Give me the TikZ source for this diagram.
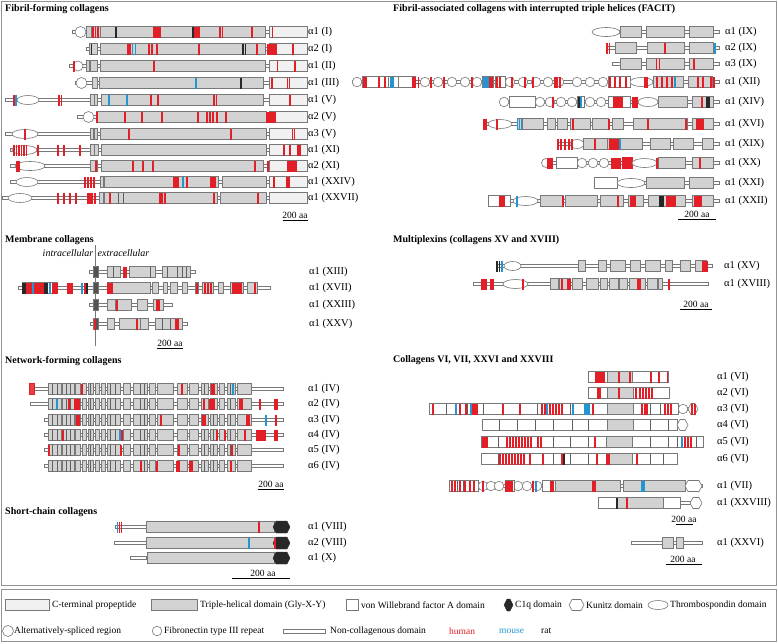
\documentclass[tikz,border=0pt]{standalone}
\usepackage{fontspec}
\setmainfont{Liberation Serif}
\definecolor{hred}{RGB}{226,30,38}
\definecolor{mblue}{RGB}{35,150,210}
\definecolor{rdark}{RGB}{40,40,40}
\definecolor{edge}{RGB}{120,120,120}
\definecolor{thfill}{RGB}{210,210,210}
\definecolor{cpfill}{RGB}{241,241,241}
\tikzset{
  ncs/.style={draw=edge,fill=white,line width=0.6pt},
  ths/.style={draw=edge,fill=thfill,line width=0.6pt},
  cps/.style={draw=edge,fill=cpfill,line width=0.6pt},
  vws/.style={draw=edge,fill=white,line width=0.6pt},
  tms/.style={draw=edge,fill=rdark!80,line width=0.6pt},
  rbs/.style={draw=hred,line width=1.15pt},
  bbs/.style={draw=mblue,line width=1.15pt},
  kbs/.style={draw=rdark,line width=1.15pt},
  dvs/.style={draw=edge!80!black,line width=0.6pt},
  labs/.style={font=\fontsize{10.5}{12}\selectfont,inner sep=0pt,anchor=west},
  sbs/.style={font=\fontsize{9.5}{11}\selectfont,inner sep=0pt,anchor=center},
  hds/.style={font=\bfseries\fontsize{10}{12}\selectfont,inner sep=0pt,anchor=west},
  lgs/.style={font=\fontsize{9.5}{11}\selectfont,inner sep=0pt,anchor=west},
  its/.style={font=\itshape\fontsize{10}{12}\selectfont,inner sep=0pt},
  frame/.style={draw=edge!80,line width=0.8pt}
}
\newcommand\ncx[3]{\draw[ncs] (#1,#3-1.6) rectangle (#2,#3+1.6);}
\newcommand\thx[3]{\draw[ths] (#1,#3-5.5) rectangle (#2,#3+5.5);}
\newcommand\cpx[3]{\draw[cps] (#1,#3-5.5) rectangle (#2,#3+5.5);}
\newcommand\vwx[3]{\draw[vws] (#1,#3-5.5) rectangle (#2,#3+5.5);}
\newcommand\tsx[3]{\draw[vws] ({(#1+#2)/2},#3) ellipse [x radius={(#2-#1)/2}, y radius=4.5];}
\newcommand\fnx[2]{\draw[vws] (#1,#2) circle [radius=4.8pt];}
\newcommand\asx[3]{\draw[vws] (#1,#2) circle [radius=#3pt];}
\newcommand\kux[3]{\draw[vws] (#1,#3) -- (#1+3,#3-5.5) -- (#2-3,#3-5.5) -- (#2,#3) -- (#2-3,#3+5.5) -- (#1+3,#3+5.5) -- cycle;}
\newcommand\cqx[3]{\draw[draw=rdark,fill=rdark] (#1,#3) -- (#1+3,#3-6) -- (#2-3,#3-6) -- (#2,#3) -- (#2-3,#3+6) -- (#1+3,#3+6) -- cycle;}
\newcommand\tmx[2]{\draw[tms] (93,#2-5.5) rectangle (98,#2+5.5);}
\newcommand\rb[2]{\foreach \xq in {#1} {\draw[rbs] (\xq,#2-5.5) -- (\xq,#2+5.5);}}
\newcommand\bb[2]{\foreach \xq in {#1} {\draw[bbs] (\xq,#2-5.5) -- (\xq,#2+5.5);}}
\newcommand\kb[2]{\foreach \xq in {#1} {\draw[kbs] (\xq,#2-5.5) -- (\xq,#2+5.5);}}
\newcommand\dv[2]{\foreach \xq in {#1} {\draw[dvs] (\xq,#2-5.5) -- (\xq,#2+5.5);}}
\newcommand\lab[4]{\node[labs] (#1) at (#2,#3) {#4};}
\newcommand\scalebar[5]{\node[sbs] (#1) at (#2,#3) {200 aa}; \draw[line width=0.8pt] (#4,#3+5.5) -- (#5,#3+5.5);}
\newcommand\netboxes[1]{\foreach \ba/\bz in {48/61,62/74,75/80,82/86,88/93,95/99,101/105,107/120,123/130,133/147,149/155,157/173,177/187,189/198,201/208,210/217,219/224,227/235,237/251} {\thx{\ba}{\bz}{#1}}
  \dv{52,57,66,70,90,110,115,140,144,204,213,230}{#1}}
\begin{document}
\begin{tikzpicture}[x=1pt,y=-1pt]
\useasboundingbox (0,0) rectangle (778,643);
\fill[white] (0,0) rectangle (778,643);
\draw[frame] (1.5,1.5) rectangle (776.5,585);
\draw[frame] (1.5,589.5) rectangle (776.5,641.5);

% ---------------- headings
\node[hds] (h1) at (5,9) {Fibril-forming collagens};
\node[hds] (h2) at (393,9) {Fibril-associated collagens with interrupted triple helices (FACIT)};
\node[hds] (h3) at (5,240) {Membrane collagens};
\node[hds] (h4) at (393,240) {Multiplexins (collagens XV and XVIII)};
\node[hds] (h5) at (5,361) {Network-forming collagens};
\node[hds] (h6) at (393,360) {Collagens VI, VII, XXVI and XXVIII};
\node[hds] (h7) at (5,512) {Short-chain collagens};

% ================= Fibril-forming
% a1(I)
\ncx{72}{270}{32}\asx{80.5}{32}{5.5}
\thx{86}{91}{32}\thx{91}{100}{32}\thx{100}{265}{32}\cpx{269}{307}{32}
\rb{93,95.5,98,154,156,158,160,195,197,199,220,222.5,252,272.5}{32}\kb{116,193}{32}
% a2(I)
\ncx{86}{269}{49}\thx{89}{97}{49}\thx{100}{265}{49}\cpx{269}{307}{49}
\rb{128,130,149,152,157,199,257,268,270,272,274,276,293}{49}\bb{132.5,135.5}{49}\kb{91.5,243,245.5}{49}
% a1(II)
\ncx{69}{269}{66}\asx{78}{66}{5}
\thx{86}{89}{66}\thx{90}{97}{66}\thx{100}{265}{66}\cpx{269}{307}{66}
\rb{74,154,277.5,295}{66}
% a1(III)
\ncx{75}{269}{83}\asx{81.5}{83}{5.5}
\thx{92}{97}{83}\thx{99}{263}{83}\cpx{269}{307}{83}
\bb{196}{83}\kb{241}{83}\rb{272,287.5,289.5}{83}
% a1(V)
\ncx{5}{269}{100}\tsx{17}{39}{100}
\thx{90}{94}{100}\thx{94}{97}{100}\thx{101}{263}{100}\cpx{269}{307}{100}
\rb{14,59,61.5,151,158,214,216.5,290}{100}\bb{16,109,127}{100}
% a2(V)
\ncx{77}{269}{117}\asx{88.5}{117}{5.5}
\thx{96}{266}{117}\cpx{269}{307}{117}
\rb{97,125,142,162,198,207,210,213,217,226,267,269,271,273,275}{117}
% a3(V)
\ncx{5}{269}{134}\tsx{12}{38}{134}
\thx{90}{93.5}{134}\thx{94}{97}{134}\thx{100}{266}{134}\cpx{269}{307}{134}
\rb{25,129,231,292.5,294.5}{134}
% a1(XI)
\ncx{10}{269}{150}\tsx{12}{37}{150}
\thx{90}{94}{150}\thx{94}{98}{150}\thx{101}{266}{150}\cpx{269}{307}{150}
\rb{14,16.5,19,21.5,24,26.5,38,58,64,80,284,290,298,300}{150}
% a2(XI)
\ncx{10}{269}{166}\tsx{15}{45}{166}
\thx{90}{97}{166}\thx{101}{263}{166}\cpx{269}{307}{166}
\rb{17,19,96,133,143,153,255,268,288,290,292,294,296}{166}
% a1(XXIV)
\ncx{10}{269}{182}\tsx{16}{38}{182}
\thx{100}{103}{182}\thx{104}{218}{182}\thx{222}{266}{182}\cpx{269}{307}{182}
\rb{85,88,91,94,174,176,178,187,211,213,215,274,287,289}{182}\bb{183}{182}
% a1(XXVII)
\ncx{2}{269}{198}\tsx{8}{32}{198}
\thx{99}{103}{198}\thx{104}{217}{198}\thx{220}{266}{198}\cpx{269}{307}{198}
\dv{118,123}{198}
\rb{58,64,70,76,88,90,92,95,110,160,162,165,214,258}{198}
\lab{l1}{308}{32}{α1 (I)}
\lab{l2}{308}{49}{α2 (I)}
\lab{l3}{308}{66}{α1 (II)}
\lab{l4}{308}{83}{α1 (III)}
\lab{l5}{308}{100}{α1 (V)}
\lab{l6}{308}{117}{α2 (V)}
\lab{l7}{308}{134}{α3 (V)}
\lab{l8}{308}{150}{α1 (XI)}
\lab{l9}{308}{166}{α2 (XI)}
\lab{l10}{308}{182}{α1 (XXIV)}
\lab{l11}{308}{198}{α1 (XXVII)}
\scalebar{s1}{295}{215}{283}{308}

% ================= FACIT
% a1(IX)
\ncx{612}{719}{32}\tsx{592}{620}{32}
\thx{620}{641}{32}\thx{646}{684}{32}\thx{689}{713}{32}
% a2(IX)
\ncx{607}{719}{48}\thx{615}{636}{48}\thx{647}{684}{48}\thx{689}{713}{48}
\rb{607,609.5,665}{48}\bb{715}{48}
% a3(IX)
\ncx{612}{719}{64}\thx{620}{641}{64}\thx{646}{684}{64}\thx{689}{713}{64}
\rb{656.5,659.5,694}{64}
% a1(XII)
\ncx{352}{719}{82}\fnx{357}{82}
\vwx{362}{388}{82}\vwx{388}{398}{82}\vwx{398}{415}{82}
\foreach \cx in {425,438,452,465,477} {\fnx{\cx}{82}}
\vwx{482}{493}{82}\vwx{495}{505}{82}
\foreach \cx in {510,523,536,548,559,577,590,603} {\fnx{\cx}{82}}
\vwx{608}{630}{82}\tsx{630}{653}{82}\thx{653}{683}{82}\thx{688}{712}{82}
\rb{364,366,379,385,413,415,418.5,431,444,472,490,492,497,500,512,525,533,555,557,560,610,615,620,626,645,647,657,662,667,672,698,703,711,714}{82}
\bb{391,393,484,486,488,675}{82}
% a1(XIV)
\ncx{500}{719}{102}\fnx{504}{102}\vwx{509}{535}{102}
\foreach \cx in {540,550,561,572,590,601} {\fnx{\cx}{102}}
\vwx{577}{584}{102}\vwx{608}{630}{102}\tsx{638}{658}{102}
\thx{658}{687}{102}\thx{692}{713}{102}
\rb{553,614,616,618,620,622,633,635,637,702}{102}\kb{579,707,709}{102}\bb{581}{102}
% a1(XVI)
\ncx{483}{719}{124}\tsx{488}{512}{124}
\thx{517}{522}{124}\thx{522}{543}{124}\thx{547}{555}{124}\thx{557}{567}{124}\thx{570}{590}{124}\thx{592}{608}{124}\thx{612}{623}{124}\thx{633}{687}{124}\thx{692}{713}{124}
\dv{647}{124}
\rb{484,486,497,573,609,648,686,697,699,701,703}{124}\bb{517.5,519.5,521.5}{124}
% a1(XIX)
\ncx{557}{719}{144}\tsx{570}{584}{144}
\thx{583}{607}{144}\thx{607}{642}{144}\thx{650}{670}{144}\thx{673}{693}{144}\thx{702}{713}{144}
\rb{558,561,565,569,572,595,610,612,614,616,618}{144}\bb{620}{144}
% a1(XX)
\ncx{542}{719}{163}\asx{546}{163}{4.5}\vwx{556}{577}{163}
\foreach \cx in {582,593,604} {\fnx{\cx}{163}}
\draw[draw=hred,fill=hred] (622,157.5) rectangle (632,168.5);
\tsx{632}{657}{163}\thx{658}{685}{163}\thx{692}{713}{163}
\rb{548,550,552,612,614,616,618,620,657,700}{163}
% a1(XXI)
\ncx{594}{719}{183}\vwx{594}{617}{183}\tsx{617}{645}{183}\thx{646}{684}{183}\thx{689}{713}{183}
% a1(XXII)
\ncx{488}{719}{201}\vwx{488}{510}{201}\tsx{513}{538}{201}
\thx{540}{563}{201}\thx{565}{597}{201}\thx{600}{623}{201}\thx{628}{643}{201}\thx{648}{685}{201}\thx{692}{713}{201}
\rb{500,502,504,563,618,631,633,635,667,669,671,673,675,695,697,699,701}{201}\bb{517}{201}\kb{660,661.5,663}{201}
\lab{f1}{725}{32}{α1 (IX)}
\lab{f2}{725}{48}{α2 (IX)}
\lab{f3}{725}{64}{α3 (IX)}
\lab{f4}{725}{82}{α1 (XII)}
\lab{f5}{725}{102}{α1 (XIV)}
\lab{f6}{725}{124}{α1 (XVI)}
\lab{f7}{725}{144}{α1 (XIX)}
\lab{f8}{725}{163}{α1 (XX)}
\lab{f9}{725}{183}{α1 (XXI)}
\lab{f10}{725}{201}{α1 (XXII)}
\scalebar{s2}{697}{214}{678}{716}

% ================= Membrane
\node[its,anchor=east] (ic) at (93.5,253) {intracellular};
\node[its,anchor=west] (ec) at (97.5,253) {extracellular};
\draw[edge,line width=0.8pt] (95.5,245) -- (95.5,346);
% a1(XIII)
\ncx{89}{195}{272}\tmx{89}{272}
\thx{107}{120}{272}\thx{129}{155}{272}\thx{162}{190}{272}
\dv{113,150,167,177,182,186}{272}\rb{124,126}{272}
% a1(XVII)
\ncx{18}{270}{288}\tmx{18}{288}
\vwx{22}{57}{288}
\thx{107}{150}{288}
\foreach \ba/\bz in {152/158,163/167,170/177,182/187,195/198,202/213,218/223,230/243,247/257} {\thx{\ba}{\bz}{288}}
\kb{23,25,45,47,87}{288}
\rb{27,29,31,35,37,39,41,43,53,55,57,68,70,72,85,108,110,112,197,205,208,211,233,235,237,239,241,255}{288}
\bb{33,50,82}{288}
% a1(XXIII)
\ncx{89}{172}{305}\tmx{89}{305}
\thx{107}{115}{305}\thx{115}{131}{305}\thx{137}{147}{305}\thx{153}{163}{305}
\rb{117,157,159}{305}
% a1(XXV)
\ncx{90}{187}{324}\tmx{90}{324}
\thx{107}{114}{324}\thx{119}{140}{324}\thx{140}{148}{324}\thx{155}{182}{324}
\dv{162,170}{324}\rb{95,137,176,178}{324}
\lab{m1}{309}{272}{α1 (XIII)}
\lab{m2}{309}{288}{α1 (XVII)}
\lab{m3}{309}{305}{α1 (XXIII)}
\lab{m4}{309}{324}{α1 (XXV)}
\scalebar{s3}{170}{343}{157}{183}

% ================= Multiplexins
\ncx{496}{712}{266}\tsx{504}{521}{266}
\foreach \ba/\bz in {578/585,598/606,610/625,630/640,645/660,665/672,680/690,695/706} {\thx{\ba}{\bz}{266}}
\kb{497,499.5}{266}\bb{502}{266}\rb{703,705,707}{266}
\ncx{473}{708}{284}\tsx{503}{528}{284}
\foreach \ba/\bz in {550/558,559/570,572/582,586/598,600/607,609/618,619/627,629/645,647/657,658/662} {\thx{\ba}{\bz}{284}}
\rb{482,484,486,491,493,523,562,568,570,638,640,669}{284}
\lab{x1}{724}{266}{α1 (XV)}
\lab{x2}{724}{284}{α1 (XVIII)}
\scalebar{s4}{696}{304}{680}{712}

% ================= Network-forming
\ncx{30}{283}{389}\netboxes{389}\draw[draw=hred,fill=hred!85] (29,383.5) rectangle (34,394.5);
\rb{82,182,212,214}{389}\bb{233}{389}
\ncx{30}{283}{404}\netboxes{404}
\rb{69,75,77,79,204,210,212,214,240,242,260,275,277}{404}\bb{57}{404}
\ncx{44}{283}{420}\netboxes{420}
\rb{77,79,161,203,205,247,249,276}{420}\bb{266}{420}
\ncx{44}{283}{435}\netboxes{435}
\rb{63,122,217,225,245,257,259,261,263,265,275,277}{435}\bb{120}{435}
\ncx{44}{283}{450}\netboxes{450}
\rb{49,121,179,232}{450}
\ncx{44}{283}{466}\netboxes{466}
\rb{141,157,177,179,190,192,231}{466}
\lab{n1}{308}{389}{α1 (IV)}
\lab{n2}{308}{404}{α2 (IV)}
\lab{n3}{308}{420}{α3 (IV)}
\lab{n4}{308}{435}{α4 (IV)}
\lab{n5}{308}{450}{α5 (IV)}
\lab{n6}{308}{466}{α6 (IV)}
\scalebar{s5}{271}{484}{258}{284}

% ================= Short-chain
\ncx{115}{146}{527}\thx{146}{274}{527}\cqx{273}{290}{527}
\bb{117.5}{527}\rb{119.5,121.5,259}{527}
\ncx{114}{146}{543}\thx{146}{274}{543}\cqx{273}{290}{543}
\bb{249}{543}\rb{275}{543}
\ncx{130}{146}{558}\thx{147}{274}{558}\cqx{273}{290}{558}
\lab{k1}{308}{527}{α1 (VIII)}
\lab{k2}{308}{543}{α2 (VIII)}
\lab{k3}{308}{558}{α1 (X)}
\scalebar{s6}{263}{573}{232}{290}

% ================= Collagens VI, VII, XXVI, XXVIII
% a1(VI)
\vwx{588}{607}{377}\thx{607}{632}{377}\vwx{632}{668}{377}\dv{650}{377}
\rb{596,598,600,602,604,619,630,651,659,667.5}{377}
% a2(VI)
\vwx{588}{607}{393}\thx{607}{633}{393}\vwx{633}{669}{393}
\rb{598,600,619,636,640,643,646,649,652}{393}
% a3(VI)
\ncx{678}{690}{409}\vwx{429}{678}{409}\thx{607}{633}{409}
\dv{446,467,483,502,520,537,553,570,588,650,660}{409}
\fnx{683}{409}\kux{688}{698}{409}
\rb{433,460,466,473,475,477,503,520,542,545,550,553,556,559,562,593,642,645,647,665,668,671,692,695}{409}
\bb{456,471,547,573,585,587,589}{409}
% a4(VI)
\vwx{482}{677}{425}\thx{607}{633}{425}\dv{499,517,535,553,572,588,650,668}{425}\kux{677}{688}{425}
% a5(VI)
\vwx{481}{703}{442}\thx{606}{632}{442}\dv{498,553,570,588,650,668,677,696}{442}
\rb{483,485,487,507,510,513,516,519,522,525,528,531,538,541,595,685,688,691}{442}\bb{682}{442}
% a6(VI)
\vwx{481}{677}{459}\thx{607}{632}{459}\dv{498,553,570,588,650,663}{459}
\rb{500,503,506,509,512,515,518,521,524,530,543,562,597,607,609,637}{459}\kb{564}{459}
% a1(VII)
\ncx{449}{702}{486}\vwx{449}{478}{486}\dv{457,463,469}{486}
\foreach \cx in {483,491,499,518,527,537} {\fnx{\cx}{486}}
\vwx{505}{514}{486}\vwx{542}{555}{486}\thx{555}{620}{486}\thx{623}{685}{486}\kux{685}{702}{486}
\rb{452,455,460,465,470,474,483,506,508,510,512,533,551,553,593,595}{486}\bb{536,642,644}{486}
% a1(XXVIII)
\ncx{598}{690}{503}\vwx{598}{617}{503}\thx{617}{663}{503}\vwx{663}{680}{503}\kux{690}{702}{503}
\kb{617}{503}\rb{627}{503}
% a1(XXVI)
\ncx{631}{702}{543}\thx{662}{673}{543}\thx{676}{683}{543}
\lab{v1}{717}{377}{α1 (VI)}
\lab{v2}{717}{393}{α2 (VI)}
\lab{v3}{717}{409}{α3 (VI)}
\lab{v4}{717}{425}{α4 (VI)}
\lab{v5}{717}{442}{α5 (VI)}
\lab{v6}{717}{459}{α6 (VI)}
\lab{v7}{717}{486}{α1 (VII)}
\lab{v8}{717}{503}{α1 (XXVIII)}
\lab{v9}{717}{543}{α1 (XXVI)}
\scalebar{s7}{684}{519}{676}{693}
\scalebar{s8}{683}{559}{666}{702}

% ================= Legend
\cpx{5}{49}{605}\node[lgs] (g1) at (52,605) {C-terminal propeptide};
\thx{151}{197}{605}\node[lgs] (g2) at (200,605) {Triple-helical domain (Gly-X-Y)};
\vwx{346}{358}{605}\node[lgs] (g3) at (361,605) {von Willebrand factor A domain};
\cqx{504}{513}{605}\node[lgs] (g4) at (515,605) {C1q domain};
\kux{569}{584}{605}\node[lgs] (g5) at (586,605) {Kunitz domain};
\tsx{648}{668}{605}\node[lgs] (g6) at (670,605) {Thrombospondin domain};
\asx{8}{631}{5.5}\node[lgs] (g7) at (14,631) {Alternatively-spliced region};
\fnx{157}{631}\node[lgs] (g8) at (164,631) {Fibronectin type III repeat};
\draw[ncs] (283,629) rectangle (325,633);\node[lgs] (g9) at (330,631) {Non-collagenous domain};
\node[lgs,text=hred] (g10) at (449,631) {human};
\node[lgs,text=mblue] (g11) at (499,631) {mouse};
\node[lgs] (g12) at (541,631) {rat};
\end{tikzpicture}
\end{document}
